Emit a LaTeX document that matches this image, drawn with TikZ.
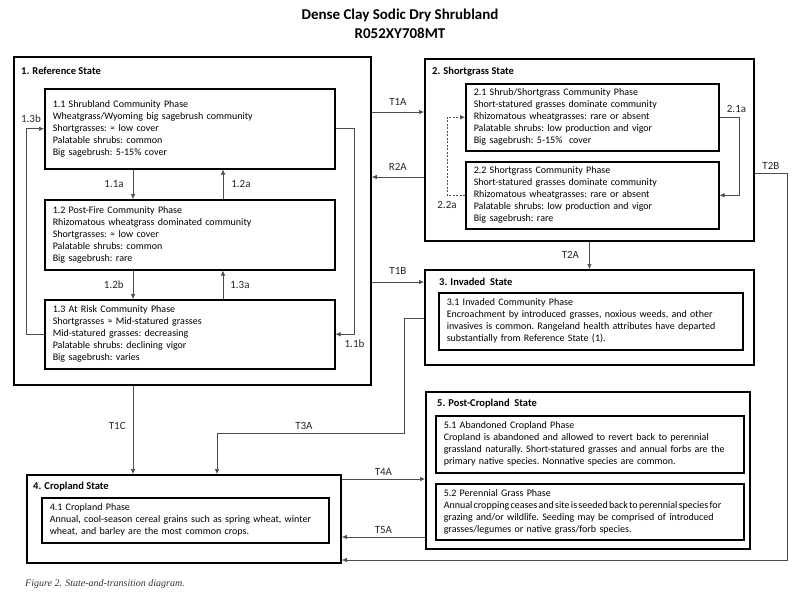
\documentclass[tikz,border=0pt]{standalone}
\usepackage{fontspec}
\setmainfont{Carlito}
\newfontfamily\capfont{Liberation Serif}
\usetikzlibrary{arrows.meta}
\tikzset{
  statebox/.style={draw,line width=1.8pt,anchor=north west,inner sep=0pt},
  phasebox/.style={draw,line width=1.5pt,anchor=north west,inner xsep=8pt,inner ysep=0pt,align=left,font=\fontsize{10}{12}\selectfont\frenchspacing},
  statename/.style={anchor=base west,inner sep=0pt,font=\bfseries\fontsize{10.5}{12}\selectfont},
  tlabel/.style={inner sep=1pt,font=\fontsize{11}{13}\selectfont,text=black!85},
  link/.style={draw=black!70,line width=.7pt,-{Latex[length=5pt,width=4.5pt]}},
}
\begin{document}
\begin{tikzpicture}[x=1pt,y=-1pt]
\useasboundingbox (0,0) rectangle (800,600);
\node[font=\bfseries\fontsize{15}{19}\selectfont,align=center] (title) at (400,23.5) {Dense Clay Sodic Dry Shrubland\\R052XY708MT};
% states
\node[statebox,minimum width=357pt,minimum height=328pt] (s1) at (13,56) {};
\node[statebox,minimum width=329pt,minimum height=182pt] (s2) at (424,58) {};
\node[statebox,minimum width=329pt,minimum height=95pt] (s3) at (424,269) {};
\node[statebox,minimum width=314pt,minimum height=88pt] (s4) at (26,474) {};
\node[statebox,minimum width=324pt,minimum height=157pt] (s5) at (425,391) {};
\node[statename] (n1) at (21,74) {1. Reference State};
\node[statename] (n2) at (432,74) {2. Shortgrass State};
\node[statename] (n3) at (439,285) {3. Invaded \ State};
\node[statename] (n4) at (33,489) {4. Cropland State};
\node[statename] (n5) at (437,406) {5. Post-Cropland \ State};
% phases
\node[phasebox,minimum width=290pt,minimum height=80pt,text width=274pt] (p11) at (44,88) {1.1 Shrubland Community Phase\\Wheatgrass/Wyoming big sagebrush community\\Shortgrasses: ≈ low cover\\Palatable shrubs: common\\Big sagebrush: 5-15\% cover};
\node[phasebox,minimum width=290pt,minimum height=70pt,text width=274pt] (p12) at (44,199) {1.2 Post-Fire Community Phase\\Rhizomatous wheatgrass dominated community\\Shortgrasses: ≈ low cover\\Palatable shrubs: common\\Big sagebrush: rare};
\node[phasebox,minimum width=290pt,minimum height=69pt,text width=274pt] (p13) at (44,299) {1.3 At Risk Community Phase\\Shortgrasses ≈ Mid-statured grasses\\Mid-statured grasses: decreasing\\Palatable shrubs: declining vigor\\Big sagebrush: varies};
\node[phasebox,minimum width=253pt,minimum height=67pt,text width=237pt] (p21) at (465,83) {2.1 Shrub/Shortgrass Community Phase\\Short-statured grasses dominate community\\Rhizomatous wheatgrasses: rare or absent\\Palatable shrubs: low production and vigor\\Big sagebrush: 5-15\% \ cover};
\node[phasebox,minimum width=253pt,minimum height=67pt,text width=237pt] (p22) at (465,161) {2.2 Shortgrass Community Phase\\Short-statured grasses dominate community\\Rhizomatous wheatgrasses: rare or absent\\Palatable shrubs: low production and vigor\\Big sagebrush: rare};
\node[phasebox,minimum width=304pt,minimum height=57pt,text width=288pt] (p31) at (438,292) {3.1 Invaded Community Phase\\Encroachment by introduced grasses, noxious weeds, and other\\invasives is common. Rangeland health attributes have departed\\substantially from Reference State (1).};
\node[phasebox,minimum width=287pt,minimum height=45pt,text width=271pt] (p41) at (41,497) {4.1 Cropland Phase\\Annual, cool-season cereal grains such as spring wheat, winter\\wheat, and barley are the most common crops.};
\node[phasebox,minimum width=308pt,minimum height=57pt,text width=292pt] (p51) at (435,415) {5.1 Abandoned Cropland Phase\\Cropland is abandoned and allowed to revert back to perennial\\grassland naturally. Short-statured grasses and annual forbs are the\\primary native species. Nonnative species are common.};
\node[phasebox,minimum width=308pt,minimum height=56pt,text width=292pt] (p52) at (435,483) {5.2 Perennial Grass Phase\\\mbox{\spaceskip=1.3pt\relax Annual cropping ceases and site is seeded back to perennial species for}\\grazing and/or wildlife. Seeding may be comprised of introduced\\grasses/legumes or native grass/forb species.};
% where the connectors run
\coordinate (cL) at (133,0);
\coordinate (cR) at (223,0);
\coordinate (yT1A) at (0,112);
\coordinate (yR2A) at (0,177);
\coordinate (yT1B) at (0,282);
\coordinate (yT2B) at (0,173);
\coordinate (yT2Bin) at (0,560);
\coordinate (xT2B) at (787,0);
\coordinate (yT3A) at (0,318);
\coordinate (t3ab) at (404,433);
\coordinate (t3a) at (217,433);
\coordinate (yT4A) at (0,479);
\coordinate (yT5A) at (0,537);
% community pathways
\draw[link] (p11.south -| cL) -- node[tlabel,left=8pt]{1.1a} (p12.north -| cL);
\draw[link] (p12.north -| cR) -- node[tlabel,right=7pt]{1.2a} (p11.south -| cR);
\draw[link] (p12.south -| cL) -- node[tlabel,left=8pt]{1.2b} (p13.north -| cL);
\draw[link] (p13.north -| cR) -- node[tlabel,right=6pt]{1.3a} (p12.south -| cR);
\draw[link] (p13.west) -- ++(-18,0) |- node[tlabel,pos=.5,above=5pt,xshift=5pt]{1.3b} (p11.west);
\draw[link] (p11.east) -- ++(19,0) |- node[tlabel,pos=.5,below=4pt]{1.1b} (p13.east);
\draw[link] (p21.east) -- node[tlabel,pos=1,above=3pt,xshift=-3pt]{2.1a} ++(20,0) |- (p22.east);
\draw[link,dash pattern=on 2pt off 1.5pt] (p22.west) -- node[tlabel,pos=1,below=5pt]{2.2a} ++(-18,0) |- (p21.west);
% transitions
\draw[link] (s1.east |- yT1A) -- node[tlabel,above=5pt]{T1A} (s2.west |- yT1A);
\draw[link] (s2.west |- yR2A) -- node[tlabel,above=5pt]{R2A} (s1.east |- yR2A);
\draw[link] (s1.east |- yT1B) -- node[tlabel,above=6pt]{T1B} (s3.west |- yT1B);
\draw[link] (s2.south) -- node[tlabel,left=9pt]{T2A} (s3.north);
\draw[link] (s2.east |- yT2B) -- node[tlabel,above=2pt]{T2B} (xT2B |- yT2B) -- (xT2B |- yT2Bin) -- (s4.east |- yT2Bin);
\draw[link] (s1.south -| cL) -- node[tlabel,pos=.45,left=6pt]{T1C} (s4.north -| cL);
\draw[link] (s3.west |- yT3A) -| (t3ab) -- node[tlabel,pos=.535,above=2pt]{T3A} (t3a) -- (s4.north -| t3a);
\draw[link] (s4.east |- yT4A) -- node[tlabel,above=2pt]{T4A} (s5.west |- yT4A);
\draw[link] (s5.west |- yT5A) -- node[tlabel,above=2pt]{T5A} (s4.east |- yT5A);
\node[anchor=west,inner sep=0pt,text=black!80,font=\capfont\itshape\fontsize{10}{12}\selectfont] (caption) at (25,584) {Figure 2. State-and-transition diagram.};
\end{tikzpicture}
\end{document}
